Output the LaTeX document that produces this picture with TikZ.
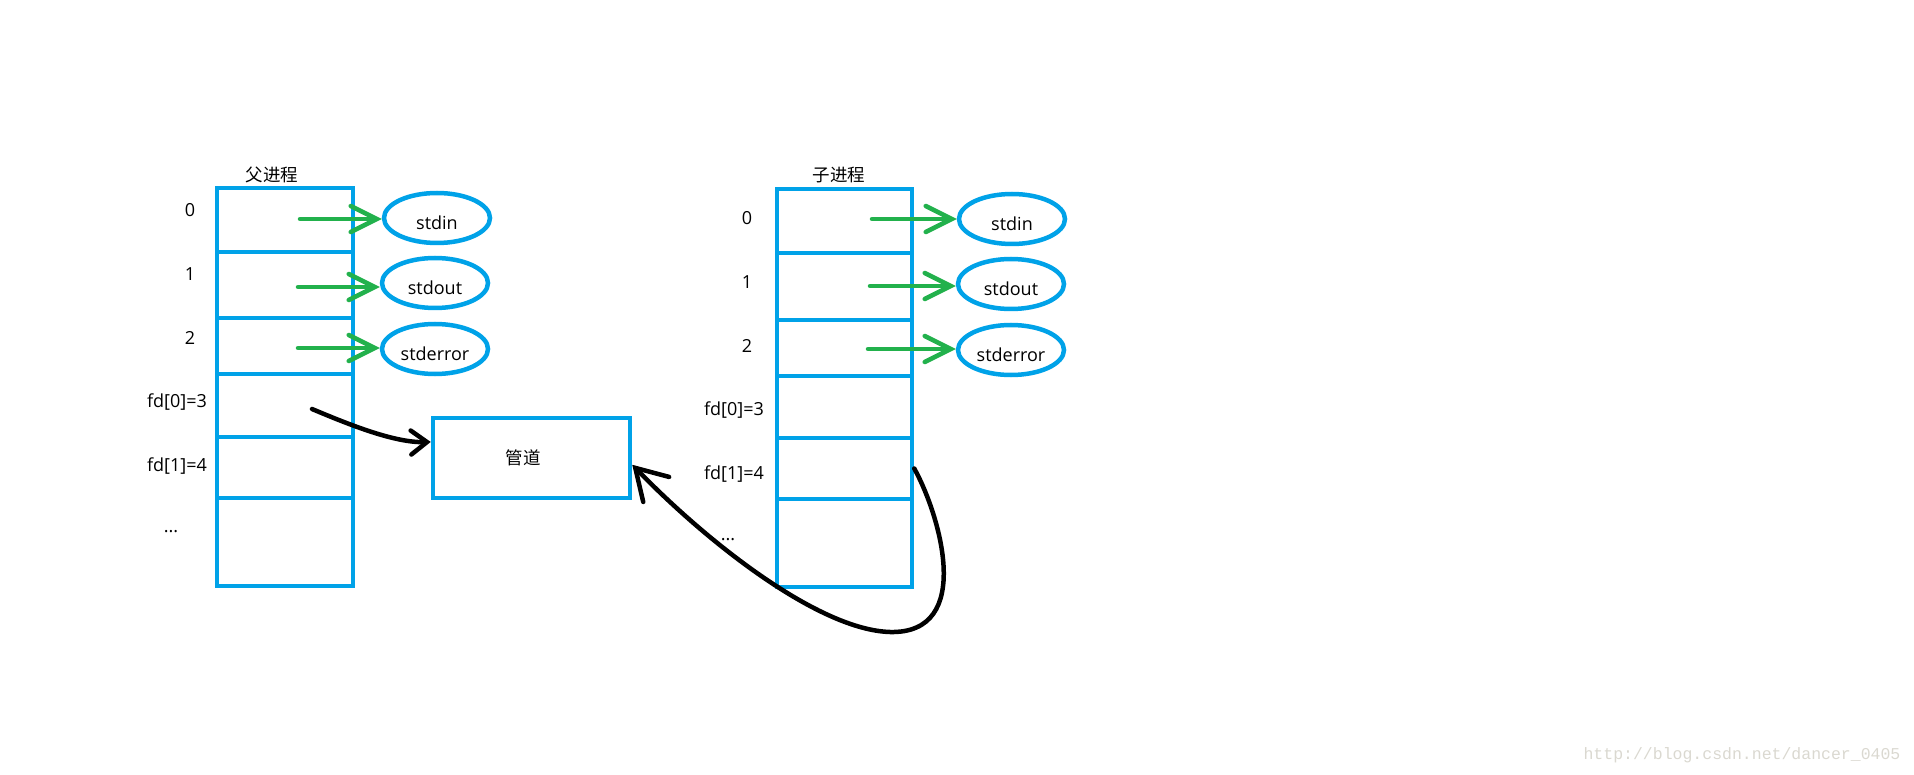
\documentclass[tikz,border=0pt]{standalone}
\usepackage{fontspec}
\setmainfont{Open Sans}
\newfontfamily\cjk{Noto Sans CJK SC}
\newfontfamily\wmfont{Liberation Mono}
\usetikzlibrary{shapes.geometric,arrows.meta,calc}
\definecolor{pblue}{RGB}{0,162,232}
\definecolor{pgreen}{RGB}{34,177,76}
\definecolor{wmgray}{RGB}{218,216,208}
\begin{document}
\begin{tikzpicture}[x=1pt,y=-1pt,
  cell/.style={draw=pblue,line width=4.5pt,rectangle,inner sep=0pt,minimum width=136pt},
  fdfile/.style={draw=pblue,line width=4.5pt,ellipse,minimum width=106pt,minimum height=50pt,inner sep=0pt,
                 text height=23pt,text depth=0pt,font=\fontsize{18}{20}\selectfont},
  lbl/.style={font=\fontsize{18}{20}\selectfont,inner sep=0pt},
  ttl/.style={font=\cjk\fontsize{17.5}{20}\selectfont,inner sep=0pt},
  garrow/.style={draw=pgreen,line width=4.5pt,line cap=round,-{Straight Barb[length=26pt,width=26pt,line cap=round]}},
  barrowA/.style={draw=black,line width=4.5pt,line cap=round,-{Straight Barb[length=16pt,width=24pt,line cap=round]}},
  barrowB/.style={draw=black,line width=4.5pt,line cap=round,-{Straight Barb[length=30pt,width=36pt,line cap=round]}},
]
\useasboundingbox (0,0) rectangle (1914,775);

% ---------- parent process table ----------
\node[ttl] (ptitle) at (272,175) {父进程};
\node[cell,minimum height=64pt] (L0) at (285,220) {};
\node[cell,minimum height=66pt] (L1) at (285,285) {};
\node[cell,minimum height=56pt] (L2) at (285,346) {};
\node[cell,minimum height=63pt] (L3) at (285,405.5) {};
\node[cell,minimum height=61pt] (L4) at (285,467.5) {};
\node[cell,minimum height=88pt] (L5) at (285,542) {};

\node[lbl] (pl0) at (190,210) {0};
\node[lbl] (pl1) at (190,274) {1};
\node[lbl] (pl2) at (190,338) {2};
\node[lbl] (pl3) at (177,402) {fd[0]=3};
\node[lbl] (pl4) at (177,466) {fd[1]=4};
\node[lbl] (pl5) at (171,532) {...};

\node[fdfile] (pin)  at (437,218) {stdin};
\node[fdfile] (pout) at (435,283) {stdout};
\node[fdfile] (perr) at (435,349) {stderror};

\coordinate (pg0) at (300,219);
\coordinate (pg1) at (298,287);
\coordinate (pg2) at (298,348);
\draw[garrow] (pg0) -- (pg0 -| pin.west);
\draw[garrow] (pg1) -- (pg1 -| pout.west);
\draw[garrow] (pg2) -- (pg2 -| perr.west);

% ---------- child process table ----------
\node[ttl] (ctitle) at (839,175) {子进程};
\node[cell,minimum width=135pt,minimum height=64pt] (R0) at (844.5,221) {};
\node[cell,minimum width=135pt,minimum height=67pt] (R1) at (844.5,286.5) {};
\node[cell,minimum width=135pt,minimum height=56pt] (R2) at (844.5,348) {};
\node[cell,minimum width=135pt,minimum height=62pt] (R3) at (844.5,407) {};
\node[cell,minimum width=135pt,minimum height=61pt] (R4) at (844.5,468.5) {};
\node[cell,minimum width=135pt,minimum height=88pt] (R5) at (844.5,543) {};

\node[lbl] (cl0) at (747,218) {0};
\node[lbl] (cl1) at (747,282) {1};
\node[lbl] (cl2) at (747,346) {2};
\node[lbl] (cl3) at (734,410) {fd[0]=3};
\node[lbl] (cl4) at (734,474) {fd[1]=4};
\node[lbl] (cl5) at (728,540) {...};

\node[fdfile] (cin)  at (1012,219) {stdin};
\node[fdfile] (cout) at (1011,284) {stdout};
\node[fdfile] (cerr) at (1011,350) {stderror};

\coordinate (cg0) at (872,219);
\coordinate (cg1) at (870,286);
\coordinate (cg2) at (868,349);
\draw[garrow] (cg0) -- (cg0 -| cin.west);
\draw[garrow] (cg1) -- (cg1 -| cout.west);
\draw[garrow] (cg2) -- (cg2 -| cerr.west);

% ---------- pipe ----------
\node[draw=pblue,line width=4.5pt,rectangle,inner sep=0pt,minimum width=197pt,minimum height=80pt] (pipe) at (531.5,458) {};
\node[ttl] (pipetext) at (523,458) {管道};

\coordinate (wstart) at (312,409);
\coordinate (pipein) at ($(pipe.north west)!0.31!(pipe.south west)$);
\draw[barrowA] (wstart) .. controls (350,425) and (395,443) .. (pipein);

\coordinate (rstart) at ($(R4.north east)!0.5!(R4.south east)$);
\coordinate (cbot) at (890,632);
\coordinate (pipeout) at ($(pipe.north east)!0.58!(pipe.south east)$);
\draw[barrowB] (rstart) .. controls (940,515) and (975,634) .. (cbot)
               .. controls (820,630) and (710,545) .. (pipeout);

% ---------- watermark ----------
\node[font=\wmfont\fontsize{16.5}{18}\selectfont,text=wmgray,inner sep=0pt] (wm) at (1742,755) {http://blog.csdn.net/dancer\_0405};
\end{tikzpicture}
\end{document}
